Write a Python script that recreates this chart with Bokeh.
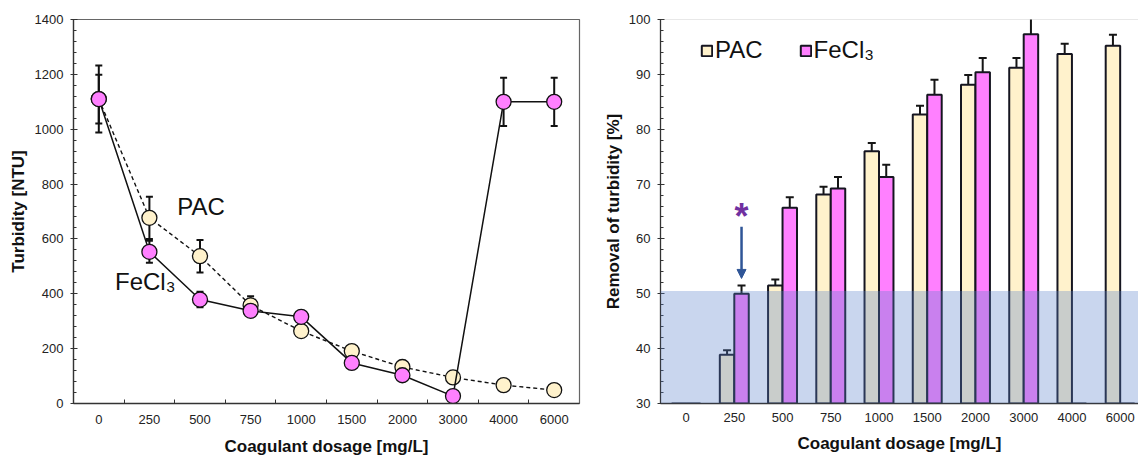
import numpy as np
from bokeh.plotting import figure
from bokeh.layouts import row
from bokeh.models import (FixedTicker, Whisker, ColumnDataSource, Label, Arrow,
                          NormalHead, BoxAnnotation, Legend, LegendItem, Range1d, TeeHead)
from bokeh.embed import file_html
from bokeh.resources import INLINE

# ---------------- data ----------------
categories = ["0", "250", "500", "750", "1000", "1500", "2000", "3000", "4000", "6000"]

pac_turbidity = [1110, 677, 537, 358, 264, 191, 133, 95, 67, 49]
pac_turbidity_err = [89, 77, 59, 33, 12, 10, 8, 8, 6, 5]
fecl3_turbidity = [1110, 553, 379, 338, 316, 148, 103, 27, 1100, 1100]
fecl3_turbidity_err = [122, 40, 28, 10, 10, 10, 8, 6, 88, 88]

pac_removal = [0, 38.9, 51.5, 68.1, 76.0, 82.7, 88.1, 91.2, 93.7, 95.2]
pac_removal_err = [np.nan, 0.8, 1.1, 1.4, 1.5, 1.6, 1.8, 1.8, 1.9, 2.0]
fecl3_removal = [0, 50.0, 65.7, 69.2, 71.3, 86.3, 90.4, 97.3, 0, 0]
fecl3_removal_err = [np.nan, 1.5, 1.9, 2.1, 2.2, 2.7, 2.6, 3.0, np.nan, np.nan]

threshold = 50.5

# ---------------- style ----------------
FONT = "Liberation Sans"
PAC_COLOR = "#FFF2CC"
FE_COLOR = "#FF80FF"
AX_COLOR = "#333333"
idx = np.arange(len(categories), dtype=float)
labels = {int(i): c for i, c in enumerate(categories)}


def style_axes(p):
    for ax in (p.xaxis[0], p.yaxis[0]):
        ax.axis_line_color = AX_COLOR
        ax.axis_line_width = 1.3
        ax.major_tick_line_color = AX_COLOR
        ax.minor_tick_line_color = AX_COLOR
        ax.major_label_text_font = FONT
        ax.major_label_text_font_size = "13px"
        ax.major_label_text_color = "#222222"
        ax.axis_label_text_font = FONT
        ax.axis_label_text_font_size = "17px"
        ax.axis_label_text_font_style = "bold"
        ax.axis_label_text_color = "#111111"
    p.xgrid.visible = False
    p.ygrid.visible = False
    p.outline_line_color = "#666666"
    p.outline_line_width = 1.2


# ---------------- left: turbidity ----------------
p1 = figure(width=600, height=459, x_range=Range1d(-0.5, 9.5), y_range=Range1d(0, 1400),
            output_backend="svg", toolbar_location=None,
            min_border_left=73, min_border_right=21, min_border_top=19, min_border_bottom=56)
style_axes(p1)
p1.xaxis.ticker = FixedTicker(ticks=list(idx), minor_ticks=list(idx[:-1] + 0.5))
p1.xaxis.major_label_overrides = labels
p1.xaxis.major_tick_in = 0
p1.xaxis.major_tick_out = 0
p1.xaxis.minor_tick_in = 4
p1.xaxis.minor_tick_out = 0
p1.xaxis.major_label_standoff = 11
p1.xaxis.axis_label_standoff = 10
p1.xaxis.axis_label = "Coagulant dosage [mg/L]"
p1.yaxis.ticker = FixedTicker(ticks=list(range(0, 1401, 200)), minor_ticks=list(range(0, 1401, 40)))
p1.yaxis.major_tick_in = 4
p1.yaxis.major_tick_out = 3
p1.yaxis.minor_tick_in = 3
p1.yaxis.minor_tick_out = 0
p1.yaxis.major_label_standoff = 7
p1.yaxis.axis_label_standoff = 4
p1.yaxis.axis_label = "Turbidity [NTU]"

src_pac = ColumnDataSource(dict(x=idx, y=pac_turbidity,
                                lo=np.array(pac_turbidity) - np.array(pac_turbidity_err),
                                hi=np.array(pac_turbidity) + np.array(pac_turbidity_err)))
src_fe = ColumnDataSource(dict(x=idx, y=fecl3_turbidity,
                               lo=np.array(fecl3_turbidity) - np.array(fecl3_turbidity_err),
                               hi=np.array(fecl3_turbidity) + np.array(fecl3_turbidity_err)))
for src in (src_pac, src_fe):
    w = Whisker(source=src, base="x", upper="hi", lower="lo", level="underlay",
                line_color="#111111", line_width=2,
                upper_head=TeeHead(size=7, line_color="#111111", line_width=2),
                lower_head=TeeHead(size=7, line_color="#111111", line_width=2))
    p1.add_layout(w)

p1.line("x", "y", source=src_pac, line_color="#111111", line_width=1.4, line_dash="4 3")
p1.scatter("x", "y", source=src_pac, size=15, fill_color=PAC_COLOR, line_color="#111111", line_width=1.3)
p1.line("x", "y", source=src_fe, line_color="#111111", line_width=1.5)
p1.scatter("x", "y", source=src_fe, size=15, fill_color=FE_COLOR, line_color="#111111", line_width=1.3)

p1.add_layout(Label(x=1.55, y=720, text="PAC", text_font=FONT, text_font_size="24px",
                    text_baseline="middle", text_align="left", text_color="#111111"))
p1.add_layout(Label(x=0.32, y=443, text="FeCl₃", text_font=FONT, text_font_size="24px",
                    text_baseline="middle", text_align="left", text_color="#111111"))

# ---------------- right: removal ----------------
Y2_MIN = 30
p2 = figure(width=538, height=459, x_range=Range1d(-0.53, 9.38), y_range=Range1d(Y2_MIN, 100),
            output_backend="svg", toolbar_location=None,
            min_border_left=60, min_border_right=0, min_border_top=19, min_border_bottom=54)
style_axes(p2)
p2.outline_line_color = None
p2.xaxis.ticker = FixedTicker(ticks=list(idx))
p2.xaxis.major_label_overrides = labels
p2.xaxis.major_tick_in = 0
p2.xaxis.major_tick_out = 0
p2.xaxis.minor_tick_in = 0
p2.xaxis.minor_tick_out = 0
p2.xaxis.major_label_standoff = 9
p2.xaxis.axis_label_standoff = 9
p2.xaxis.axis_label = "Coagulant dosage [mg/L]"
p2.yaxis.ticker = FixedTicker(ticks=list(range(30, 101, 10)), minor_ticks=list(range(30, 101, 2)))
p2.yaxis.major_tick_in = 4
p2.yaxis.major_tick_out = 3
p2.yaxis.minor_tick_in = 3
p2.yaxis.minor_tick_out = 0
p2.yaxis.major_label_standoff = 7
p2.yaxis.axis_label_standoff = 3
p2.yaxis.axis_label = "Removal of turbidity [%]"

# top frame line (the right edge of the frame lies outside the picture)
top_axis_line = BoxAnnotation(bottom=100, top=100, line_color="#666666", line_width=1.2,
                              fill_alpha=0)
p2.add_layout(top_axis_line)

BAR_W = 0.3
pac_top = np.maximum(np.array(pac_removal, dtype=float), Y2_MIN)
fe_top = np.maximum(np.array(fecl3_removal, dtype=float), Y2_MIN)
r_pac = p2.vbar(x=idx - BAR_W / 2, width=BAR_W, bottom=Y2_MIN, top=pac_top,
                fill_color=PAC_COLOR, line_color="#151520", line_width=2)
r_fe = p2.vbar(x=idx + BAR_W / 2, width=BAR_W, bottom=Y2_MIN, top=fe_top,
               fill_color=FE_COLOR, line_color="#151520", line_width=2)

for xs, vals, errs in ((idx - BAR_W / 2, pac_removal, pac_removal_err),
                       (idx + BAR_W / 2, fecl3_removal, fecl3_removal_err)):
    v = np.array(vals, dtype=float)
    e = np.array(errs, dtype=float)
    s = ColumnDataSource(dict(x=xs, lo=v - e, hi=v + e))
    p2.add_layout(Whisker(source=s, base="x", upper="hi", lower="lo",
                          line_color="#151515", line_width=2,
                          upper_head=TeeHead(size=8, line_color="#151515", line_width=2),
                          lower_head=TeeHead(size=8, line_color="#151515", line_width=2)))

p2.add_layout(BoxAnnotation(top=threshold, fill_color="#5680CA", fill_alpha=0.32, line_alpha=0))

star_x = idx[1] + BAR_W / 2
p2.add_layout(Label(x=star_x, y=64.0, text="*", text_font=FONT, text_font_size="36px",
                    text_font_style="bold", text_align="center", text_baseline="alphabetic",
                    text_color="#7030A0"))
p2.add_layout(Arrow(x_start=star_x, y_start=62.2, x_end=star_x, y_end=52.8,
                    line_color="#2F5597", line_width=2.5,
                    end=NormalHead(size=9, fill_color="#2F5597", line_color="#2F5597")))

legend = Legend(items=[LegendItem(label="PAC", renderers=[r_pac]),
                       LegendItem(label="FeCl₃", renderers=[r_fe])],
                location=(40, 339), orientation="horizontal",
                label_text_font=FONT, label_text_font_size="24px", label_text_color="#111111",
                glyph_width=13, glyph_height=13, label_standoff=2, spacing=36,
                padding=0, margin=0, border_line_alpha=0, background_fill_alpha=0)
p2.add_layout(legend)

layout = row(p1, p2)
open("out.html", "w").write(file_html(layout, INLINE))
